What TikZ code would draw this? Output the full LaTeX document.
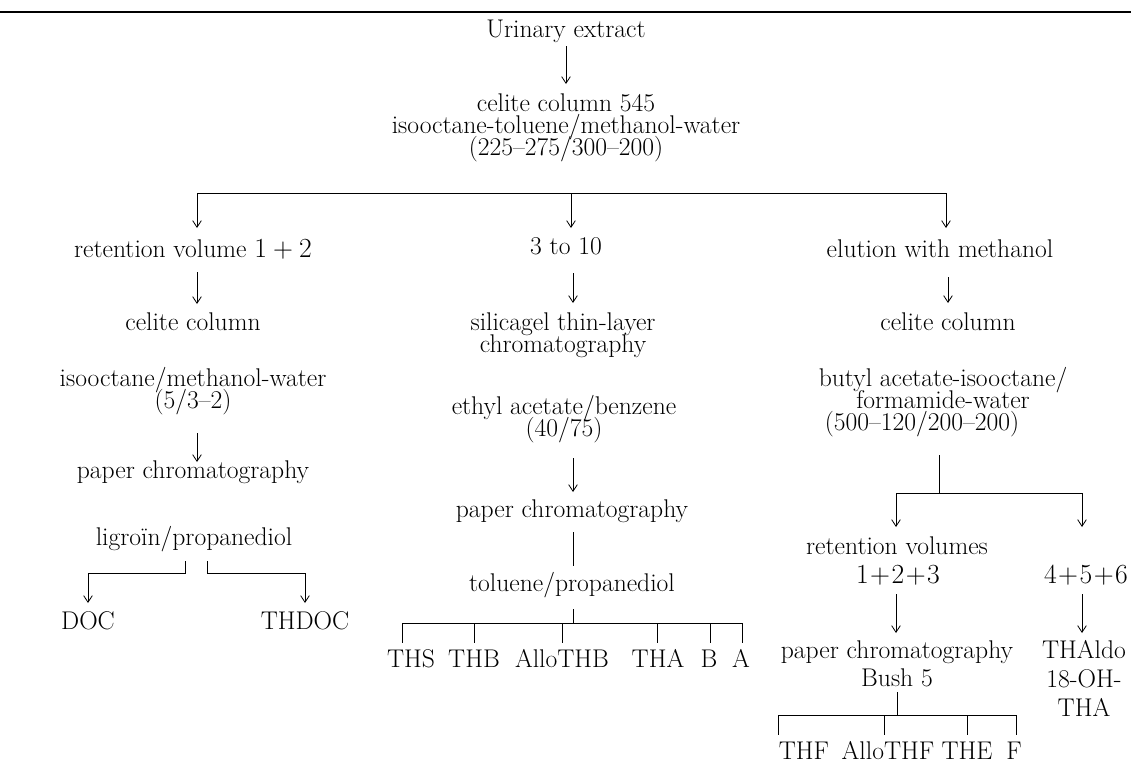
\documentclass[tikz,border=0pt]{standalone}
\usetikzlibrary{arrows.meta}
\newcommand{\tightlines}{\lineskiplimit=-50pt\relax\lineskip=0pt\relax}
\begin{document}
\begin{tikzpicture}[x=0.75pt,y=-0.75pt,
  lbl/.style={anchor=base,inner sep=0pt,font=\fontsize{19.2}{23}\selectfont},
  mline/.style={anchor=base,inner sep=0pt,align=center,
    font=\fontsize{19.2}{16.5}\selectfont\tightlines},
  arr/.style={line width=0.6pt,-{Straight Barb[length=5pt,width=6.5pt]}},
  ln/.style={line width=0.6pt},
  rule/.style={line width=1.2pt}]
\useasboundingbox (0,0) rectangle (1131,771);
\draw[rule] (0,12) -- (1131,12);
% ---------- top ----------
\node[lbl] (ue) at (566,37) {Urinary extract};
\node[mline] (c545) at (566,155) {celite column 545\\isooctane-toluene/methanol-water\\(225–275/300–200)};
\coordinate (a0s) at (566,46); \coordinate (a0e) at (566,84);
\draw[arr] (a0s) -- (a0e);
\coordinate (jL) at (197,193); \coordinate (jM) at (571,193); \coordinate (jR) at (946,193);
\draw[ln] (jL) -- (jR);
\coordinate (jLe) at (197,228); \coordinate (jMe) at (571,228); \coordinate (jRe) at (946,228);
\draw[arr] (jL) -- (jLe);
\draw[arr] (jM) -- (jMe);
\draw[arr] (jR) -- (jRe);
% ---------- left ----------
\node[lbl] (rv) at (193,257) {retention volume $1+2$};
\node[lbl] (cc1) at (193,330) {celite column};
\node[mline] (imw) at (193,408) {isooctane/methanol-water\\(5/3–2)};
\node[lbl] (pc1) at (193,478) {paper chromatography};
\node[lbl] (lp) at (194,545) {ligroïn/propanediol};
\node[lbl] (doc) at (88,629) {DOC};
\node[lbl] (thdoc) at (305,629) {THDOC};
\coordinate (l1s) at (197,272); \coordinate (l1e) at (197,304);
\draw[arr] (l1s) -- (l1e);
\coordinate (l2s) at (197,433); \coordinate (l2e) at (197,462);
\draw[arr] (l2s) -- (l2e);
\coordinate (bl1) at (185,561); \coordinate (bl2) at (185,573); \coordinate (bl3) at (88,573); \coordinate (bl4) at (88,603);
\draw[arr] (bl1) -- (bl2) -- (bl3) -- (bl4);
\coordinate (br1) at (207,561); \coordinate (br2) at (207,573); \coordinate (br3) at (305,573); \coordinate (br4) at (305,603);
\draw[arr] (br1) -- (br2) -- (br3) -- (br4);
% ---------- middle ----------
\node[lbl] (t310) at (566,254) {3 to 10};
\node[mline] (sil) at (563,352) {silicagel thin-layer\\chromatography};
\node[mline] (eab) at (564,436) {ethyl acetate/benzene\\(40/75)};
\node[lbl] (pc2) at (572,517) {paper chromatography};
\node[lbl] (tp) at (572,591) {toluene/propanediol};
\coordinate (m1s) at (573,273); \coordinate (m1e) at (573,303);
\draw[arr] (m1s) -- (m1e);
\coordinate (m2s) at (573,458); \coordinate (m2e) at (573,492);
\draw[arr] (m2s) -- (m2e);
\coordinate (m3s) at (573,532); \coordinate (m3e) at (573,566);
\draw[ln] (m3s) -- (m3e);
\coordinate (mt) at (573,609); \coordinate (mb) at (573,623);
\draw[ln] (mt) -- (mb);
\coordinate (mbL) at (402,623); \coordinate (mbR) at (742,623);
\draw[ln] (mbL) -- (mbR);
\foreach \x/\n/\lx/\t in {402/ths/411/THS,474/thb/474/THB,562/athb/562/AlloTHB,657/tha/658/THA,710/b/709/B,742/a/741/A}{
  \coordinate (k\n) at (\x,623); \coordinate (e\n) at (\x,643);
  \draw[ln] (k\n) -- (e\n);
  \node[lbl] (\n) at (\lx,667) {\t};
}
% ---------- right ----------
\node[lbl] (ewm) at (940,257) {elution with methanol};
\node[lbl] (cc2) at (948,330) {celite column};
\node[mline] (bai) at (943,430) {butyl acetate-isooctane/\\formamide-water\hspace*{19.5pt}\\(500–120/200–200)\hspace*{31.5pt}};
\coordinate (r1s) at (948,277); \coordinate (r1e) at (948,303);
\draw[arr] (r1s) -- (r1e);
\coordinate (r2s) at (939,455); \coordinate (r2e) at (939,493);
\draw[ln] (r2s) -- (r2e);
\coordinate (rbL) at (896,493); \coordinate (rbR) at (1082,493);
\draw[ln] (rbL) -- (rbR);
\coordinate (rbLe) at (896,527); \coordinate (rbRe) at (1082,527);
\draw[arr] (rbL) -- (rbLe);
\draw[arr] (rbR) -- (rbRe);
\node[lbl] (rvs) at (897,554) {retention volumes};
\node[lbl] (n123) at (898,583) {\medmuskip=1mu $1+2+3$};
\node[lbl] (n456) at (1086,583) {\medmuskip=1mu $4+5+6$};
\coordinate (r3s) at (896,594); \coordinate (r3e) at (896,633);
\draw[arr] (r3s) -- (r3e);
\coordinate (r4s) at (1082,594); \coordinate (r4e) at (1082,633);
\draw[arr] (r4s) -- (r4e);
\node[lbl] (pc3) at (897,658) {paper chromatography};
\node[lbl] (bush) at (897,686) {Bush 5};
\node[lbl] (thaldo) at (1084,658) {THAldo};
\node[lbl] (oh) at (1084,687) {18-OH-};
\node[lbl] (tha2) at (1084,716) {THA};
\coordinate (rt) at (897,692); \coordinate (rb) at (897,715);
\draw[ln] (rt) -- (rb);
\coordinate (rbbL) at (778,715); \coordinate (rbbR) at (1016,715);
\draw[ln] (rbbL) -- (rbbR);
\foreach \x/\n/\lx/\t in {778/thf/804/THF,884/athf/888/AlloTHF,967/the/967/THE,1016/f/1014/F}{
  \coordinate (k\n) at (\x,715); \coordinate (e\n) at (\x,735);
  \draw[ln] (k\n) -- (e\n);
  \node[lbl] (\n) at (\lx,759) {\t};
}
\end{tikzpicture}
\end{document}
